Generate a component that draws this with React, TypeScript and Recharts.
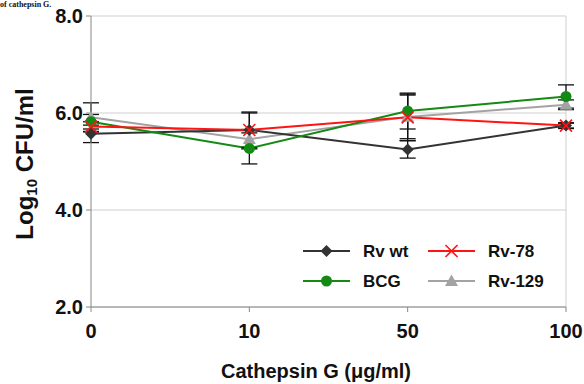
import React from 'react';
import { LineChart, Line, XAxis, YAxis, CartesianGrid, ErrorBar, ReferenceLine } from 'recharts';

const categories = ['0', '10', '50', '100'];
const rvWt = [5.57, 5.65, 5.25, 5.74];
const rvWtErr = [0.18, 0.35, 0.18, 0.06];
const bcg = [5.82, 5.27, 6.04, 6.34];
const bcgErr = [0.15, 0.32, 0.37, 0.24];
const rv78 = [5.72, 5.65, 5.91, 5.74];
const rv78Err = [0.1, 0.37, 0.48, 0.05];
const rv129 = [5.91, 5.46, 5.92, 6.17];
const rv129Err = [0.3, 0.2, 0.45, 0.1];
const yTicks = [2, 4, 6, 8];

const data = categories.map((c, i) => ({
  dose: c,
  rvWt: rvWt[i], rvWtErr: rvWtErr[i],
  bcg: bcg[i], bcgErr: bcgErr[i],
  rv78: rv78[i], rv78Err: rv78Err[i],
  rv129: rv129[i], rv129Err: rv129Err[i],
}));

const BLACK = '#333333';
const GREEN = '#138a13';
const RED = '#ff1414';
const GRAY = '#a3a3a3';
const FONT = '"Liberation Sans", Arial, sans-serif';

const Diamond = (p: any) => {
  const { cx, cy, key } = p;
  if (cx == null || cy == null) return <g key={key} />;
  const r = 6;
  return <polygon key={key} points={`${cx},${cy - r} ${cx + r},${cy} ${cx},${cy + r} ${cx - r},${cy}`} fill={BLACK} />;
};
const Circle = (p: any) => {
  const { cx, cy, key } = p;
  if (cx == null || cy == null) return <g key={key} />;
  return <circle key={key} cx={cx} cy={cy} r={5.5} fill={GREEN} />;
};
const Cross = (p: any) => {
  const { cx, cy, key } = p;
  if (cx == null || cy == null) return <g key={key} />;
  const r = 6;
  return (
    <g key={key}>
      <line x1={cx - r} y1={cy - r} x2={cx + r} y2={cy + r} stroke={RED} strokeWidth={1.6} />
      <line x1={cx - r} y1={cy + r} x2={cx + r} y2={cy - r} stroke={RED} strokeWidth={1.6} />
    </g>
  );
};
const Tri = (p: any) => {
  const { cx, cy, key } = p;
  if (cx == null || cy == null) return <g key={key} />;
  const r = 6.5;
  return <polygon key={key} points={`${cx},${cy - r} ${cx + r},${cy + r * 0.75} ${cx - r},${cy + r * 0.75}`} fill={GRAY} />;
};

const LegendItem = ({ color, marker, label, x, y }: any) => (
  <g>
    <line x1={x} y1={y} x2={x + 47} y2={y} stroke={color} strokeWidth={2} />
    {marker(x + 23.5, y)}
    <text x={x + 60} y={y + 6} fontSize={17} fontWeight="bold" fontFamily={FONT} fill="#111">{label}</text>
  </g>
);

export default function App() {
  return (
    <div style={{ position: 'fixed', left: 0, top: 0, width: 584, height: 384, background: '#fff', overflow: 'hidden' }}>
      <div style={{ position: 'absolute', left: 0, top: 0, fontFamily: '"Liberation Serif", serif', fontWeight: 'bold', fontSize: 8, lineHeight: '9px', color: '#111', whiteSpace: 'nowrap' }}>
        of cathepsin G.
      </div>
      <LineChart width={584} height={384} data={data} margin={{ top: 16, right: 18, left: 0, bottom: 0 }}>
        <CartesianGrid vertical={false} stroke="#cfcfcf" />
        <ReferenceLine x="100" stroke="#cfcfcf" />
        <XAxis
          dataKey="dose"
          height={77}
          stroke="#888"
          tickSize={5}
          tickMargin={12}
          tick={{ fontSize: 20, fontWeight: 'bold', fontFamily: FONT, fill: '#111' }}
          label={() => (
            <text x={316} y={378} textAnchor="middle" fontSize={20} fontWeight="bold" fontFamily={FONT} fill="#111">
              Cathepsin G (μg/ml)
            </text>
          )}
        />
        <YAxis
          width={91}
          domain={[2, 8]}
          ticks={yTicks}
          stroke="#888"
          tickSize={5}
          tickMargin={3}
          tickFormatter={(v: number) => v.toFixed(1)}
          tick={{ fontSize: 20, fontWeight: 'bold', fontFamily: FONT, fill: '#111' }}
          label={() => {
            const cx = 24, cy = 164;
            return (
              <text x={cx} y={cy} transform={`rotate(-90 ${cx} ${cy})`} textAnchor="middle" fontSize={24} fontWeight="bold" fontFamily={FONT} fill="#111" dominantBaseline="central">
                Log<tspan fontSize={15} dy={7}>10</tspan><tspan dy={-7}> CFU/ml</tspan>
              </text>
            );
          }}
        />
        <Line dataKey="rv129" stroke={GRAY} strokeWidth={2} dot={Tri} activeDot={false} isAnimationActive={false}>
          <ErrorBar dataKey="rv129Err" width={8} stroke="#111" strokeWidth={1.3} />
        </Line>
        <Line dataKey="rvWt" stroke={BLACK} strokeWidth={2} dot={Diamond} activeDot={false} isAnimationActive={false}>
          <ErrorBar dataKey="rvWtErr" width={8} stroke="#111" strokeWidth={1.3} />
        </Line>
        <Line dataKey="bcg" stroke={GREEN} strokeWidth={2} dot={Circle} activeDot={false} isAnimationActive={false}>
          <ErrorBar dataKey="bcgErr" width={8} stroke="#111" strokeWidth={1.3} />
        </Line>
        <Line dataKey="rv78" stroke={RED} strokeWidth={2} dot={Cross} activeDot={false} isAnimationActive={false}>
          <ErrorBar dataKey="rv78Err" width={8} stroke="#111" strokeWidth={1.3} />
        </Line>
      </LineChart>
      <svg width={584} height={384} style={{ position: 'absolute', left: 0, top: 0, pointerEvents: 'none' }}>
        <LegendItem color={BLACK} x={303} y={251} label="Rv wt" marker={(cx: number, cy: number) => Diamond({ cx, cy, key: 'a' })} />
        <LegendItem color={RED} x={428} y={251} label="Rv-78" marker={(cx: number, cy: number) => Cross({ cx, cy, key: 'b' })} />
        <LegendItem color={GREEN} x={303} y={281} label="BCG" marker={(cx: number, cy: number) => Circle({ cx, cy, key: 'c' })} />
        <LegendItem color={GRAY} x={428} y={281} label="Rv-129" marker={(cx: number, cy: number) => Tri({ cx, cy, key: 'd' })} />
      </svg>
    </div>
  );
}
